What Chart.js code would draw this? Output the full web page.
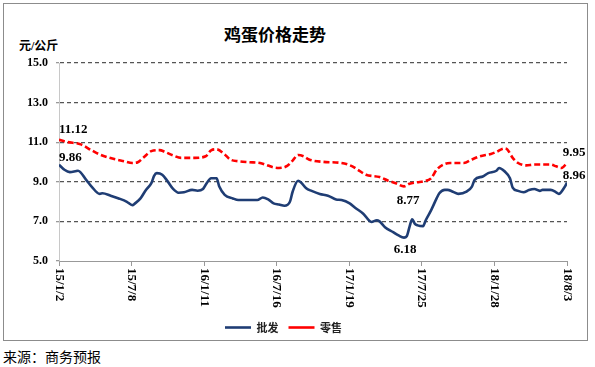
<!DOCTYPE html>
<html>
<head>
<meta charset="utf-8">
<script src="https://cdn.jsdelivr.net/npm/chart.js@4.4.1/dist/chart.umd.min.js"></script>
<style>
  html, body { margin: 0; padding: 0; background: #fff; }
  body { width: 595px; height: 367px; position: relative; overflow: hidden; font-family: "Noto Sans CJK SC", sans-serif; }
  #frame { position: absolute; left: 3px; top: 3px; width: 583px; height: 336px; border: 1px solid #8c8c8c; }
  #title { position: absolute; left: 0; top: 21px; width: 550px; text-align: center; font: bold 17px "Noto Sans CJK SC"; color: #000; }
  #unit { position: absolute; left: 19px; top: 36px; font: bold 12px "Liberation Serif", "Noto Sans CJK SC"; color: #000; }
  #source { position: absolute; left: 3px; top: 348px; font: 14px "Noto Sans CJK SC"; line-height: 17px; color: #000; }
  #wrap { position: absolute; left: 0; top: 0; width: 595px; height: 367px; }
</style>
</head>
<body>
<div id="frame"></div>
<div id="title">鸡蛋价格走势</div>
<div id="unit">元/公斤</div>
<div id="source">来源：商务预报</div>
<div id="wrap"><canvas id="myChart" width="595" height="367"></canvas></div>
<script>
// weekly axis: week 0 = 15/1/2, week 187 = 18/8/3
const tickLabels = ['15/1/2', '15/7/8', '16/1/11', '16/7/16', '17/1/19', '17/7/25', '18/1/28', '18/8/3'];
const lastWeek = 187;

// 批发 (wholesale)
const wholesaleWeeks = [0, 2, 4, 6, 7, 10, 12, 15, 16, 19, 22, 25, 27, 28, 30, 32, 34, 35, 36, 38, 40, 42, 44, 46, 49, 51, 53, 54, 56, 58, 59, 61, 64, 66, 70, 73, 75, 77, 79, 81, 83, 85, 86, 88, 89, 91, 93, 96, 99, 102, 104, 107, 109, 112, 115, 117, 118, 120, 123, 125, 127, 128, 129, 130, 131, 132, 134, 135, 137, 139, 140, 142, 143, 145, 147, 150, 152, 153, 156, 158, 161, 162, 164, 166, 167, 169, 171, 173, 175, 177, 178, 181, 183, 184, 186, 187];
const wholesaleValues = [9.86, 9.61, 9.49, 9.53, 9.56, 9.10, 8.76, 8.39, 8.42, 8.30, 8.16, 7.99, 7.82, 7.91, 8.16, 8.59, 8.93, 9.30, 9.44, 9.36, 9.02, 8.64, 8.45, 8.47, 8.59, 8.55, 8.64, 8.85, 9.18, 9.18, 8.76, 8.34, 8.16, 8.08, 8.08, 8.08, 8.21, 8.11, 7.91, 7.85, 7.79, 7.99, 8.50, 9.05, 8.98, 8.67, 8.54, 8.39, 8.30, 8.11, 8.08, 7.91, 7.69, 7.39, 6.97, 7.06, 7.00, 6.71, 6.46, 6.29, 6.18, 6.25, 6.71, 7.11, 6.88, 6.80, 6.76, 7.06, 7.57, 8.16, 8.42, 8.59, 8.59, 8.50, 8.39, 8.50, 8.76, 9.10, 9.27, 9.44, 9.56, 9.70, 9.53, 9.18, 8.71, 8.54, 8.47, 8.59, 8.64, 8.54, 8.59, 8.59, 8.47, 8.39, 8.71, 8.96];

// 零售 (retail)
const retailWeeks = [0, 3, 8, 12, 15, 20, 24, 27, 29, 31, 34, 37, 39, 42, 45, 50, 54, 56, 58, 61, 63, 66, 70, 74, 77, 79, 81, 84, 86, 88, 90, 92, 97, 104, 108, 110, 113, 118, 121, 124, 127, 129, 132, 134, 137, 139, 142, 144, 149, 152, 155, 159, 161, 164, 165, 167, 169, 172, 175, 178, 181, 183, 185, 187];
const retailValues = [11.12, 11.01, 10.89, 10.59, 10.38, 10.16, 10.04, 9.95, 9.99, 10.21, 10.55, 10.60, 10.51, 10.33, 10.21, 10.21, 10.29, 10.59, 10.64, 10.38, 10.13, 10.04, 9.99, 9.95, 9.82, 9.73, 9.70, 9.80, 10.07, 10.35, 10.29, 10.13, 10.01, 9.95, 9.78, 9.61, 9.36, 9.24, 9.07, 8.93, 8.77, 8.90, 8.98, 9.02, 9.18, 9.61, 9.90, 9.95, 9.95, 10.13, 10.29, 10.41, 10.51, 10.69, 10.64, 10.21, 9.95, 9.83, 9.87, 9.87, 9.87, 9.78, 9.70, 9.95];

const toPoints = (xs, ys) => xs.map((x, i) => ({ x: x, y: ys[i] }));

const serif = '"Liberation Serif", "Times New Roman", serif';

// value labels on the lines: dataset, point index, offset
const valueTags = [
    { ds: 1, idx: 0, dx: 0, dy: -10, align: 'left' },
    { ds: 0, idx: 0, dx: 0, dy: -7, align: 'left' },
    { ds: 1, idx: retailValues.length - 1, dx: 7, dy: -10, align: 'center' },
    { ds: 0, idx: wholesaleValues.length - 1, dx: 7, dy: -7, align: 'center' },
    { ds: 1, idx: retailValues.indexOf(8.77), dx: 4, dy: 14, align: 'center' },
    { ds: 0, idx: wholesaleValues.indexOf(6.18), dx: 1, dy: 12, align: 'center' },
];

const tagPlugin = {
    id: 'tags',
    afterDatasetsDraw(chart) {
        const ctx = chart.ctx;
        ctx.save();
        ctx.fillStyle = '#000';
        ctx.font = 'bold 13px ' + serif;
        ctx.textBaseline = 'middle';
        valueTags.forEach(t => {
            const pt = chart.getDatasetMeta(t.ds).data[t.idx];
            const v = chart.data.datasets[t.ds].data[t.idx].y;
            ctx.textAlign = t.align;
            ctx.fillText(v.toFixed(2), pt.x + t.dx, pt.y + t.dy);
        });
        ctx.restore();
    },
};

// x labels turned clockwise, as in the original
const xLabelPlugin = {
    id: 'xlabels',
    afterDraw(chart) {
        const xs = chart.scales.x;
        const ctx = chart.ctx;
        ctx.save();
        ctx.fillStyle = '#000';
        ctx.font = 'bold 13px ' + serif;
        ctx.textAlign = 'left';
        ctx.textBaseline = 'middle';
        xs.ticks.forEach((tk, i) => {
            const px = xs.getPixelForValue(tk.value);
            ctx.save();
            ctx.translate(px, xs.top + 7);
            ctx.rotate(Math.PI / 2);
            ctx.fillText(tickLabels[i], 0, 0);
            ctx.restore();
        });
        ctx.restore();
    },
};

new Chart('myChart', {
    type: 'line',
    data: {
        datasets: [
            {
                label: '批发',
                data: toPoints(wholesaleWeeks, wholesaleValues),
                borderColor: '#1f3d74',
                backgroundColor: '#1f3d74',
                borderWidth: 2.6,
                pointRadius: 0,
                cubicInterpolationMode: 'monotone',
            },
            {
                label: '零售',
                data: toPoints(retailWeeks, retailValues),
                borderColor: '#ff0000',
                backgroundColor: '#ff0000',
                borderWidth: 2.6,
                borderDash: [6, 3],
                pointRadius: 0,
                cubicInterpolationMode: 'monotone',
            },
        ],
    },
    options: {
        responsive: false,
        animation: false,
        layout: { padding: { left: 0, right: 28, top: 63, bottom: 24 } },
        plugins: {
            title: { display: false },
            tooltip: { enabled: false },
            legend: {
                position: 'bottom',
                labels: {
                    usePointStyle: true,
                    pointStyle: 'line',
                    pointStyleWidth: 26,
                    padding: 10,
                    color: '#222',
                    font: { family: '"Noto Sans CJK SC"', size: 11, weight: 'bold' },
                },
            },
        },
        scales: {
            x: {
                type: 'linear',
                min: 0,
                max: lastWeek,
                afterBuildTicks: (scale) => {
                    scale.ticks = tickLabels.map((_, i) => ({ value: i * lastWeek / (tickLabels.length - 1) }));
                },
                afterFit: (scale) => { scale.height = 51; },
                ticks: { display: false },
                grid: { drawOnChartArea: false, drawTicks: true, tickLength: 5, color: '#999' },
                border: { color: '#999', width: 1 },
            },
            y: {
                min: 5,
                max: 15,
                afterFit: (scale) => { scale.width = 59; },
                ticks: {
                    stepSize: 2,
                    padding: 8,
                    color: '#000',
                    font: { family: serif, size: 12, weight: 'bold' },
                    callback: (v) => v.toFixed(1),
                },
                grid: {
                    color: (c) => (c.tick && c.tick.value === 5 ? 'rgba(0,0,0,0)' : '#555'),
                    lineWidth: 1.3,
                    tickLength: 3,
                    tickColor: '#999',
                },
                border: { color: '#c8c8c8', width: 1, dash: [4, 3] },
            },
        },
    },
    plugins: [tagPlugin, xLabelPlugin],
});
</script>
</body>
</html>
